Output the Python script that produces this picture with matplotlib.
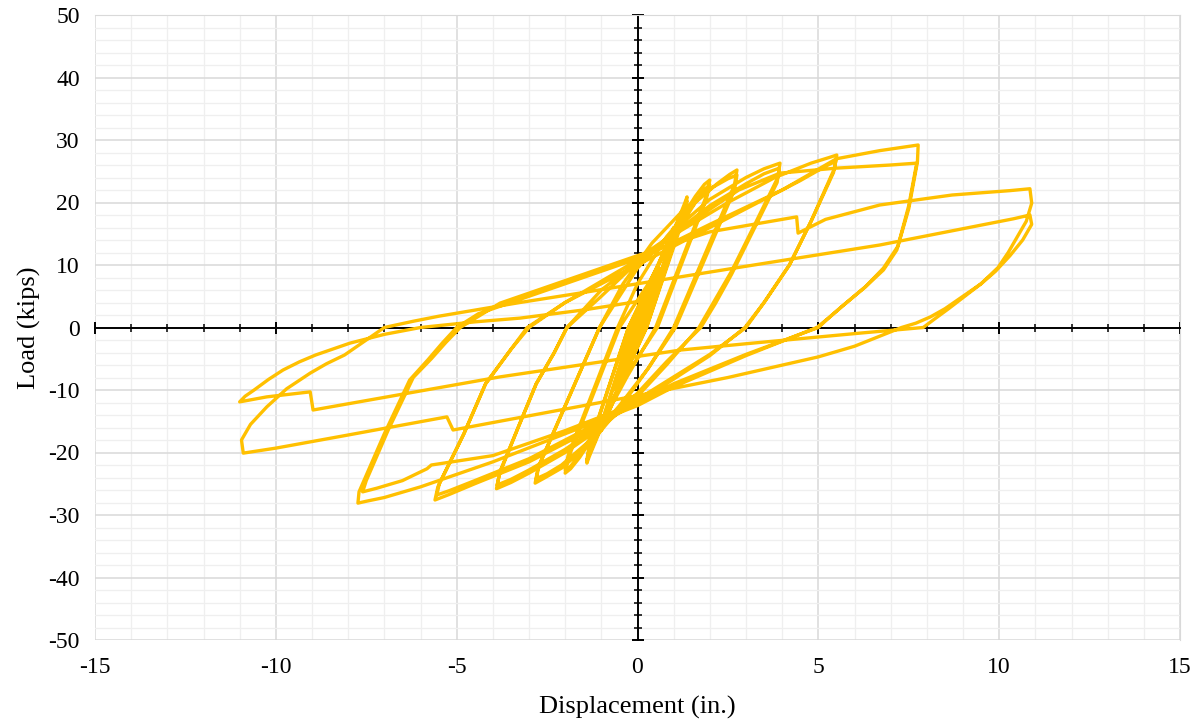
import numpy as np
import matplotlib.pyplot as plt
from matplotlib.ticker import MultipleLocator, NullLocator

plt.rcParams['font.family'] = ['Liberation Serif', 'DejaVu Serif']
plt.rcParams['axes.unicode_minus'] = False

# cyclic test record, grouped by target amplitude
# each group: two full cycles (positive half, then negative half)
amp03_disp = [0, 0.15, 0.3, 0.22, 0.05, -0.15, -0.3, -0.22, -0.05, 0.15, 0.3, 0.22, 0.05, -0.15, -0.3, -0.22, -0.05]
amp03_load = [0, 2.2, 4.5, 3.0, 0, -2.4, -4.8, -3.2, 0, 2.3, 4.3, 2.9, 0, -2.3, -4.6, -3.1, 0]

amp06_disp = [0.3, 0.6, 0.5, 0.1, -0.3, -0.6, -0.5, -0.1, 0.3, 0.6, 0.5, 0.1, -0.3, -0.6, -0.5, -0.1]
amp06_load = [5.0, 9.5, 7.5, 0, -5.0, -10.0, -8.0, 0, 5.0, 9.2, 7.3, 0, -4.8, -9.6, -7.8, 0]

amp10_disp = [0.4, 1.0, 0.9, 0.15, -0.4, -1.0, -0.9, -0.15, 0.4, 1.0, 0.9, 0.15, -0.4, -1.0, -0.9, -0.15]
amp10_load = [7.5, 16.0, 13.5, 0, -8.0, -16.5, -14.0, 0, 7.8, 15.5, 13.0, 0, -7.8, -16.0, -13.5, 0]

amp14_disp = [0.5, 1.0, 1.3, 1.37, 1.3, 0.25, -0.5, -1.0, -1.33, -1.4, -1.33, -0.25,
              0.5, 1.0, 1.3, 1.37, 1.3, 0.25, -0.5, -1.0, -1.33, -1.4, -1.33, -0.25]
amp14_load = [9.0, 15.5, 19.8, 20.9, 18.5, 0, -9.5, -16.0, -20.6, -21.7, -19.0, 0,
              9.0, 15.3, 19.3, 20.3, 18.0, 0, -9.2, -15.8, -20.2, -21.2, -18.8, 0]

amp20_disp = [0.4, 1.0, 1.6, 1.85, 2.0, 1.9, 0.5, -0.3, -1.0, -1.6, -1.85, -2.0, -1.92, -0.5,
              0.3, 1.0, 1.6, 1.85, 2.0, 1.9, 0.55, -0.3, -1.0, -1.6, -1.85, -2.0, -1.92, -0.55]
amp20_load = [8.0, 15.5, 21.0, 22.9, 23.6, 21.0, 0, -8.0, -15.5, -20.8, -22.6, -23.3, -21.0, 0,
              7.0, 14.5, 20.0, 22.1, 22.8, 20.5, 0, -7.5, -15.0, -20.3, -22.2, -22.8, -20.5, 0]

amp28_disp = [0, 0.8, 1.6, 2.2, 2.55, 2.75, 2.68, 1.0, 0.3, -0.5, -1.3, -2.1, -2.55, -2.83, -2.75, -1.05,
              -0.4, 0.4, 1.3, 2.1, 2.5, 2.75, 2.68, 1.05, 0.3, -0.5, -1.3, -2.1, -2.5, -2.8, -2.72, -1.05]
amp28_load = [7.0, 14.5, 20.0, 23.0, 24.5, 25.2, 22.8, 0, -6.5, -13.0, -18.5, -22.5, -24.0, -24.9, -22.5, 0,
              7.0, 13.5, 19.0, 22.5, 23.8, 24.4, 22.0, 0, -6.5, -12.5, -18.0, -22.0, -23.4, -24.2, -22.0, 0]

amp39_disp = [0, 1.0, 2.0, 3.0, 3.5, 3.94, 3.88, 3.2, 2.6, 2.1, 1.7, 0.8, 0, -1.0, -2.0, -3.0, -3.5, -3.9,
              -3.82, -3.3, -2.8, -2.3, -1.95,
              -1.0, 0, 1.0, 2.0, 3.0, 3.5, 3.92, 3.86, 3.2, 2.6, 2.15, 1.75, 0.8, 0, -1.0, -2.0, -3.0, -3.5, -3.88,
              -3.8, -3.3, -2.8, -2.3, -1.95]
amp39_load = [9.5, 15.5, 20.5, 24.0, 25.4, 26.3, 24.0, 16.0, 9.0, 4.0, 0, -6.0, -11.0, -16.0, -20.0, -23.3, -24.8, -25.8,
              -23.5, -16.0, -9.0, -4.0, 0,
              6.0, 10.5, 15.0, 19.5, 23.0, 24.6, 25.5, 23.2, 15.5, 8.5, 3.8, 0, -5.5, -10.5, -15.5, -19.5, -22.8, -24.3, -25.2,
              -23.0, -16.0, -9.0, -4.0, 0]

amp55_disp = [-1.0, 0, 1.2, 2.5, 3.8, 4.8, 5.3, 5.51, 5.45, 4.8, 4.2, 3.5, 2.97, 2.0, 0, -1.5, -3.0, -4.5, -5.2, -5.6,
              -5.52, -4.8, -4.2, -3.5, -3.0,
              -2.0, 0, 1.5, 3.0, 4.5, 5.2, 5.48, 5.42, 4.8, 4.2, 3.5, 3.0, 2.0, 0, -1.5, -3.0, -4.5, -5.2, -5.55,
              -5.48, -4.8, -4.2, -3.5, -3.05]
amp55_load = [5.0, 10.5, 15.5, 20.0, 24.0, 26.3, 27.2, 27.6, 25.5, 17.0, 10.0, 4.0, 0, -4.5, -12.0, -17.0, -21.5, -25.0, -26.7, -27.6,
              -25.5, -17.0, -9.0, -3.5, 0,
              4.0, 10.0, 14.5, 19.0, 23.5, 25.8, 26.6, 24.8, 17.0, 10.0, 4.0, 0, -4.3, -11.5, -16.5, -21.0, -24.5, -26.1, -26.8,
              -25.0, -17.0, -9.0, -3.5, 0]

amp78_disp = [-2.0, 0, 2.0, 4.0, 5.5, 6.7, 7.4, 7.76, 7.74, 7.5, 7.17, 6.8, 6.3, 5.68, 5.3, 4.96,
              3.0, 1.0, 0, -2.0, -4.0, -6.0, -7.0, -7.5, -7.73, -7.7, -7.0, -6.3, -5.8, -5.4, -5.0,
              -4.4, -3.5, 0, 1.5, 2.8, 3.94, 5.5, 7.0, 7.72, 7.5, 7.2, 6.8, 6.3, 5.68, 5.3, 5.0,
              3.0, 1.0, 0, -2.0, -4.0, -5.7, -5.82, -6.5, -7.2, -7.6, -7.5, -6.9, -6.2, -5.7, -5.3, -4.9]
amp78_load = [4.0, 10.8, 16.5, 22.0, 27.0, 28.3, 28.9, 29.2, 26.5, 19.0, 12.4, 9.2, 6.5, 3.5, 1.6, 0,
              -4.5, -9.5, -12.5, -17.0, -21.5, -25.5, -27.2, -27.8, -28.1, -26.3, -17.0, -8.4, -5.2, -2.5, 0,
              2.2, 4.0, 11.0, 17.0, 22.0, 24.7, 25.5, 26.0, 26.3, 19.5, 13.0, 9.5, 6.5, 3.5, 1.6, 0,
              -4.3, -9.0, -12.0, -16.5, -20.5, -22.0, -22.6, -24.5, -25.7, -26.3, -24.5, -16.5, -8.0, -5.0, -2.4, 0]

amp109_disp = [-3.8, -2.0, 0, 2.0, 4.4, 4.44, 5.2, 6.7, 8.7, 10.3, 10.85,
               10.9, 10.75, 10.5, 10.25, 9.97, 9.5, 9.0, 8.5, 8.1, 7.7, 7.3,
               6.0, 5.0, 2.5, 0, -2.14, -5.1, -5.27, -8.0, -10.0, -10.9,
               -10.95, -10.7, -10.25, -9.7, -9.05, -8.6, -8.1, -7.6, -7.0, -6.2, -5.5, -4.16, -3.25,
               -1.6, 0, 3.0, 6.7, 9.0, 10.4, 10.85,
               10.9, 10.65, 10.3, 9.9, 9.5, 9.05, 8.6, 8.2, 7.9,
               6.15, 3.0, 1.2, -3.8, -8.97, -9.05, -10.25, -11.0,
               -10.85, -10.6, -10.2, -9.8, -9.35, -8.9, -7.95, -7.0, -6.0, -4.5, -3.25, -1.5, 0.5]
amp109_load = [3.9, 7.5, 11.5, 15.3, 17.7, 15.1, 17.3, 19.6, 21.2, 21.9, 22.2,
               19.9, 17.0, 14.5, 12.0, 9.6, 7.0, 5.0, 3.0, 1.7, 0.7, 0,
               -3.0, -4.7, -8.0, -10.9, -13.2, -16.4, -14.3, -17.2, -19.3, -20.1,
               -18.0, -15.5, -12.7, -9.8, -7.3, -5.8, -4.4, -2.4, 0, 1.0, 1.8, 3.1, 4.0,
               5.5, 7.0, 9.8, 13.2, 15.8, 17.4, 18.0,
               16.5, 14.0, 11.5, 9.0, 7.0, 5.0, 3.0, 1.3, 0,
               -0.9, -2.6, -3.6, -7.9, -13.2, -10.3, -11.1, -11.9,
               -11.0, -10.0, -8.3, -6.8, -5.5, -4.4, -2.5, -1.1, 0, 0.9, 1.5, 2.8, 4.6]

x_ticks = [-15, -10, -5, 0, 5, 10, 15]
y_ticks = [-50, -40, -30, -20, -10, 0, 10, 20, 30, 40, 50]

disp = np.concatenate([amp03_disp, amp06_disp, amp10_disp, amp14_disp, amp20_disp,
                       amp28_disp, amp39_disp, amp55_disp, amp78_disp, amp109_disp])
load = np.concatenate([amp03_load, amp06_load, amp10_load, amp14_load, amp20_load,
                       amp28_load, amp39_load, amp55_load, amp78_load, amp109_load])

fig = plt.figure(figsize=(12, 7.26), dpi=100)
ax = fig.add_axes([95 / 1200, 1 - 640 / 726, 1085 / 1200, 625 / 726])

ax.plot(disp, load, color='#FFC000', lw=2.4, solid_joinstyle='round', zorder=3)

ax.set_xlim(-15, 15)
ax.set_ylim(-50, 50)
ax.xaxis.set_major_locator(MultipleLocator(5))
ax.xaxis.set_minor_locator(MultipleLocator(1))
ax.yaxis.set_major_locator(MultipleLocator(10))
ax.yaxis.set_minor_locator(MultipleLocator(2))
ax.grid(which='major', color='#d9d9d9', lw=1.1)
ax.grid(which='minor', color='#efefef', lw=0.9)
ax.set_axisbelow(True)

# axis lines through the origin, Excel style
for side in ['top', 'right']:
    ax.spines[side].set_color('#d9d9d9')
ax.spines['left'].set_position(('data', 0))
ax.spines['bottom'].set_position(('data', 0))
for side in ['left', 'bottom']:
    ax.spines[side].set_color('black')
    ax.spines[side].set_linewidth(1.4)
    ax.spines[side].set_zorder(2.5)
ax.tick_params(which='both', direction='inout', labelbottom=False, labelleft=False,
               color='black')
ax.tick_params(which='major', length=9, width=1.4)
ax.tick_params(which='minor', length=6, width=1.1)

# tick labels sit at the outer edge of the plot area
sx = ax.secondary_xaxis(0.0)
sx.set_xticks(x_ticks)
sx.xaxis.set_minor_locator(NullLocator())
sx.tick_params(length=0, pad=12, labelsize=17)
sx.spines['bottom'].set_visible(False)
sx.set_xlabel('Displacement (in.)', fontsize=19, labelpad=13)

sy = ax.secondary_yaxis(0.0)
sy.set_yticks(y_ticks)
sy.yaxis.set_minor_locator(NullLocator())
sy.tick_params(length=0, pad=11, labelsize=17)
sy.spines['left'].set_visible(False)
sy.set_ylabel('Load (kips)', fontsize=19, labelpad=5)

fig.savefig('out.png', dpi=100)
